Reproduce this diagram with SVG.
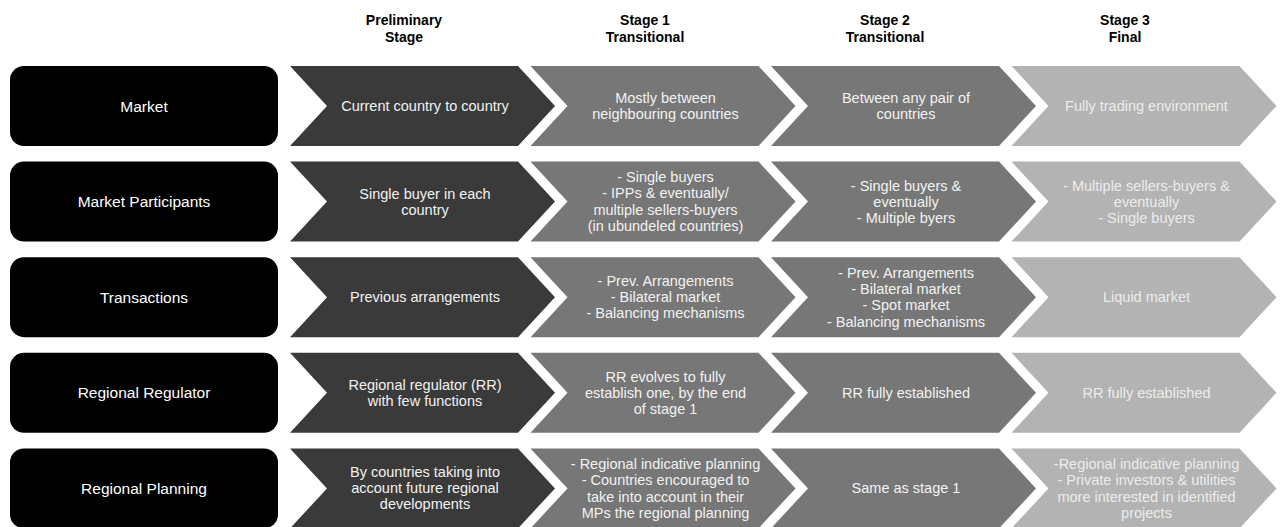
<svg xmlns="http://www.w3.org/2000/svg" width="1280" height="527" viewBox="0 0 1280 527">
<style>
.hdr{font-family:"Liberation Sans",Arial,sans-serif;font-size:14px;font-weight:bold;fill:#000;text-anchor:middle}
.lbl{font-family:"Liberation Sans",Arial,sans-serif;font-size:15.5px;fill:#fff;text-anchor:middle}
.txt{font-family:"Liberation Sans",Arial,sans-serif;font-size:14.5px;fill:#f2f2f2;text-anchor:middle}
.txt4{font-family:"Liberation Sans",Arial,sans-serif;font-size:14.5px;fill:#ececec;text-anchor:middle}
.box{fill:#000}
.c1{fill:#3a3a3a}
.c2{fill:#777777}
.c3{fill:#777777}
.c4{fill:#b3b3b3}
</style>
<defs>
<path id="chev" d="M0,0 L228,0 L265,40 L228,80 L0,80 L37,40 Z"/>
<rect id="box" x="0" y="0" width="268" height="80" rx="14" ry="14"/>
</defs>

<g id="headers">
<text class="hdr" x="404" y="25">Preliminary</text>
<text class="hdr" x="404" y="42">Stage</text>
<text class="hdr" x="645" y="25">Stage 1</text>
<text class="hdr" x="645" y="42">Transitional</text>
<text class="hdr" x="885" y="25">Stage 2</text>
<text class="hdr" x="885" y="42">Transitional</text>
<text class="hdr" x="1125" y="25">Stage 3</text>
<text class="hdr" x="1125" y="42">Final</text>
</g>

<!-- Row 1: Market -->
<g id="row-market">
<use href="#box" class="box" x="10" y="66"/>
<text class="lbl" x="144" y="111.5">Market</text>
</g>
<g id="market-s0"><use href="#chev" class="c1" x="290" y="66"/>
<text class="txt" x="425" y="111">Current country to country</text></g>
<g id="market-s1"><use href="#chev" class="c2" x="530.5" y="66"/>
<text class="txt" x="665.5" y="103">Mostly between</text>
<text class="txt" x="665.5" y="119">neighbouring countries</text></g>
<g id="market-s2"><use href="#chev" class="c3" x="771" y="66"/>
<text class="txt" x="906" y="103">Between any pair of</text>
<text class="txt" x="906" y="119">countries</text></g>
<g id="market-s3"><use href="#chev" class="c4" x="1011.5" y="66"/>
<text class="txt4" x="1146.5" y="111">Fully trading environment</text></g>

<!-- Row 2: Market Participants -->
<g id="row-participants">
<use href="#box" class="box" x="10" y="161.6"/>
<text class="lbl" x="144" y="207.1">Market Participants</text>
</g>
<g id="participants-s0"><use href="#chev" class="c1" x="290" y="161.6"/>
<text class="txt" x="425" y="198.6">Single buyer in each</text>
<text class="txt" x="425" y="214.6">country</text></g>
<g id="participants-s1"><use href="#chev" class="c2" x="530.5" y="161.6"/>
<text class="txt" x="665.5" y="182.1">- Single buyers</text>
<text class="txt" x="665.5" y="198.4">- IPPs &amp; eventually/</text>
<text class="txt" x="665.5" y="214.7">multiple sellers-buyers</text>
<text class="txt" x="665.5" y="231">(in ubundeled countries)</text></g>
<g id="participants-s2"><use href="#chev" class="c3" x="771" y="161.6"/>
<text class="txt" x="906" y="190.6">- Single buyers &amp;</text>
<text class="txt" x="906" y="206.6">eventually</text>
<text class="txt" x="906" y="222.6">- Multiple byers</text></g>
<g id="participants-s3"><use href="#chev" class="c4" x="1011.5" y="161.6"/>
<text class="txt4" x="1146.5" y="190.6">- Multiple sellers-buyers &amp;</text>
<text class="txt4" x="1146.5" y="206.6">eventually</text>
<text class="txt4" x="1146.5" y="222.6">- Single buyers</text></g>

<!-- Row 3: Transactions -->
<g id="row-transactions">
<use href="#box" class="box" x="10" y="257.2"/>
<text class="lbl" x="144" y="302.7">Transactions</text>
</g>
<g id="transactions-s0"><use href="#chev" class="c1" x="290" y="257.2"/>
<text class="txt" x="425" y="302.2">Previous arrangements</text></g>
<g id="transactions-s1"><use href="#chev" class="c2" x="530.5" y="257.2"/>
<text class="txt" x="665.5" y="286.2">- Prev. Arrangements</text>
<text class="txt" x="665.5" y="302.2">- Bilateral market</text>
<text class="txt" x="665.5" y="318.2">- Balancing mechanisms</text></g>
<g id="transactions-s2"><use href="#chev" class="c3" x="771" y="257.2"/>
<text class="txt" x="906" y="277.7">- Prev. Arrangements</text>
<text class="txt" x="906" y="294">- Bilateral market</text>
<text class="txt" x="906" y="310.3">- Spot market</text>
<text class="txt" x="906" y="326.6">- Balancing mechanisms</text></g>
<g id="transactions-s3"><use href="#chev" class="c4" x="1011.5" y="257.2"/>
<text class="txt4" x="1146.5" y="302.2">Liquid market</text></g>

<!-- Row 4: Regional Regulator -->
<g id="row-regulator">
<use href="#box" class="box" x="10" y="352.8"/>
<text class="lbl" x="144" y="398.3">Regional Regulator</text>
</g>
<g id="regulator-s0"><use href="#chev" class="c1" x="290" y="352.8"/>
<text class="txt" x="425" y="389.8">Regional regulator (RR)</text>
<text class="txt" x="425" y="405.8">with few functions</text></g>
<g id="regulator-s1"><use href="#chev" class="c2" x="530.5" y="352.8"/>
<text class="txt" x="665.5" y="381.8">RR evolves to fully</text>
<text class="txt" x="665.5" y="397.8">establish one, by the end</text>
<text class="txt" x="665.5" y="413.8">of stage 1</text></g>
<g id="regulator-s2"><use href="#chev" class="c3" x="771" y="352.8"/>
<text class="txt" x="906" y="397.8">RR fully established</text></g>
<g id="regulator-s3"><use href="#chev" class="c4" x="1011.5" y="352.8"/>
<text class="txt4" x="1146.5" y="397.8">RR fully established</text></g>

<!-- Row 5: Regional Planning -->
<g id="row-planning">
<use href="#box" class="box" x="10" y="448.4"/>
<text class="lbl" x="144" y="493.9">Regional Planning</text>
</g>
<g id="planning-s0"><use href="#chev" class="c1" x="290" y="448.4"/>
<text class="txt" x="425" y="477.4">By countries taking into</text>
<text class="txt" x="425" y="493.4">account future regional</text>
<text class="txt" x="425" y="509.4">developments</text></g>
<g id="planning-s1"><use href="#chev" class="c2" x="530.5" y="448.4"/>
<text class="txt" x="665.5" y="468.9">- Regional indicative planning</text>
<text class="txt" x="665.5" y="485.2">- Countries encouraged to</text>
<text class="txt" x="665.5" y="501.5">take into account in their</text>
<text class="txt" x="665.5" y="517.8">MPs the regional planning</text></g>
<g id="planning-s2"><use href="#chev" class="c3" x="771" y="448.4"/>
<text class="txt" x="906" y="493.4">Same as stage 1</text></g>
<g id="planning-s3"><use href="#chev" class="c4" x="1011.5" y="448.4"/>
<text class="txt4" x="1146.5" y="468.9">-Regional indicative planning</text>
<text class="txt4" x="1146.5" y="485.2">- Private investors &amp; utilities</text>
<text class="txt4" x="1146.5" y="501.5">more interested in identified</text>
<text class="txt4" x="1146.5" y="517.8">projects</text></g>

<g id="connectors"></g>
</svg>
